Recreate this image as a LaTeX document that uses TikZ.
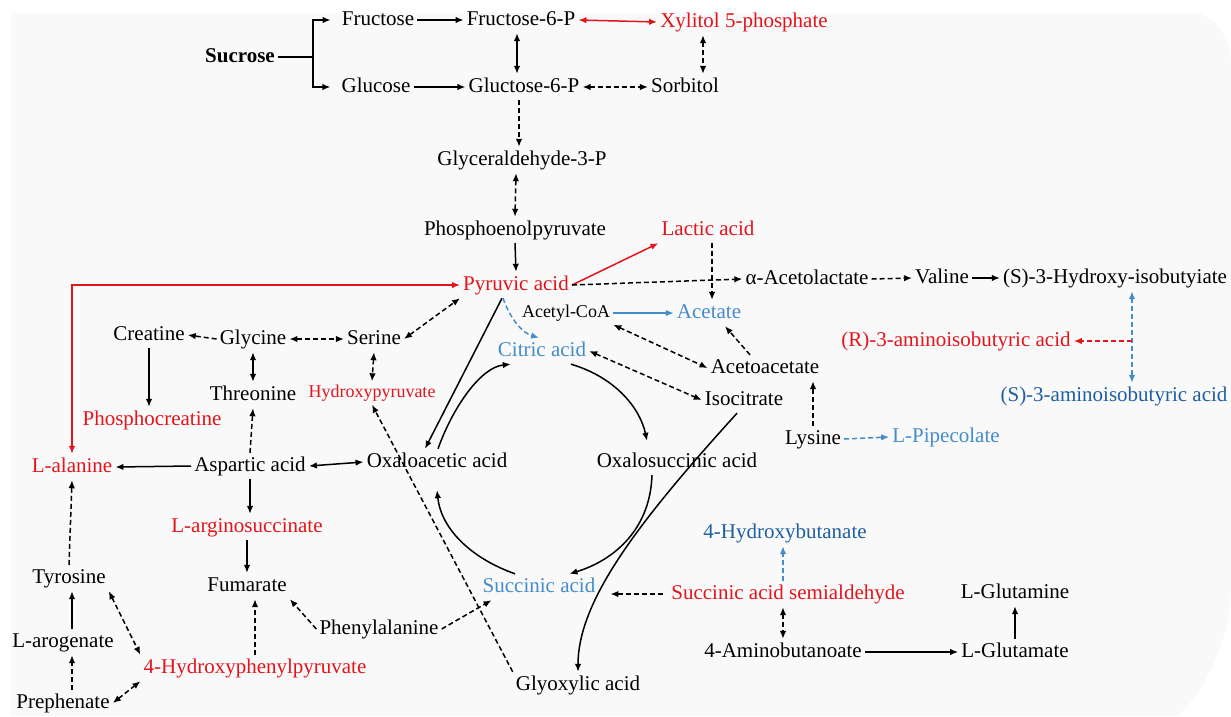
\documentclass[tikz,border=0pt]{standalone}
\usepackage{fontspec}
\setmainfont{Liberation Serif}
\usetikzlibrary{arrows.meta}

\definecolor{panel}{RGB}{249,249,249}
\definecolor{pathred}{RGB}{228,20,28}
\definecolor{pathblue}{RGB}{68,140,204}
\definecolor{deepblue}{RGB}{31,94,160}

\tikzset{
  met/.style={font=\fontsize{21}{25}\selectfont, text height=15pt, text depth=5pt, inner sep=3pt},
  metbold/.style={met, font=\fontsize{21}{25}\selectfont\bfseries},
  metsmall/.style={met, font=\fontsize{18}{21}\selectfont, text height=13pt, text depth=4pt},
  line/.style={line width=1.5pt},
  arr/.style={line, -{Latex[length=8pt,width=6.5pt]}},
  darr/.style={line, {Latex[length=8pt,width=6.5pt]}-{Latex[length=8pt,width=6.5pt]}},
  dsh/.style={dash pattern=on 5pt off 3pt},
}

\begin{document}
\begin{tikzpicture}[x=1pt,y=-1pt]
\useasboundingbox (0,0) rectangle (1231,716);

% Background panel
\fill[panel] (11,13) -- (1194,13) .. controls (1214,13) and (1231,40) .. (1231,62) -- (1231,585)
  .. controls (1231,640) and (1205,690) .. (1178,716) -- (11,716) -- cycle;

% Sugars
\node[metbold] (sucr) at (240,57) {Sucrose};
\node[met] (fru) at (378,20) {Fructose};
\node[met] (glc) at (376,87) {Glucose};
\node[met] (f6p) at (521,20) {Fructose-6-P};
\node[met] (g6p) at (524,87) {Gluctose-6-P};
\node[met,text=pathred] (xyl) at (744,22) {Xylitol 5-phosphate};
\node[met] (sorb) at (685,87) {Sorbitol};
\node[met] (gap) at (522,160) {Glyceraldehyde-3-P};
\node[met] (pep) at (515,230) {Phosphoenolpyruvate};
\node[met,text=pathred] (pyr) at (516,285) {Pyruvic acid};
\node[met,text=pathred] (lac) at (708,230) {Lactic acid};

% Valine branch
\node[met] (acl) at (807,279) {α-Acetolactate};
\node[met] (val) at (942,278) {Valine};
\node[met] (hib) at (1115,278) {(S)-3-Hydroxy-isobutyiate};
\node[met,text=pathred] (raib) at (956,341) {(R)-3-aminoisobutyric acid};
\node[met,text=deepblue] (saib) at (1114,396) {(S)-3-aminoisobutyric acid};

% TCA cycle
\node[metsmall] (accoa) at (566,313) {Acetyl-CoA};
\node[met,text=pathblue] (ace) at (709,313) {Acetate};
\node[met,text=pathblue] (cit) at (542,351) {Citric acid};
\node[met] (acac) at (765,368) {Acetoacetate};
\node[met] (icit) at (744,400) {Isocitrate};
\node[met] (lys) at (813,439) {Lysine};
\node[met,text=pathblue] (pip) at (946,437) {L-Pipecolate};
\node[met] (oaa) at (437,462) {Oxaloacetic acid};
\node[met] (osuc) at (677,462) {Oxalosuccinic acid};
\node[met,text=pathblue] (suc) at (539,587) {Succinic acid};
\node[met] (glyox) at (578,685) {Glyoxylic acid};

% Amino acids
\node[met] (cre) at (149,335) {Creatine};
\node[met] (gly) at (253,339) {Glycine};
\node[met] (ser) at (374,339) {Serine};
\node[met] (thr) at (253,395) {Threonine};
\node[metsmall,text=pathred] (hpyr) at (372,393) {Hydroxypyruvate};
\node[met,text=pathred] (pcre) at (152,420) {Phosphocreatine};
\node[met,text=pathred] (ala) at (72,467) {L-alanine};
\node[met] (asp) at (250,466) {Aspartic acid};
\node[met,text=pathred] (arg) at (247,527) {L-arginosuccinate};
\node[met] (tyr) at (69,578) {Tyrosine};
\node[met] (fum) at (247,586) {Fumarate};
\node[met] (phe) at (379,629) {Phenylalanine};
\node[met] (arog) at (63,642) {L-arogenate};
\node[met,text=pathred] (hpp) at (255,668) {4-Hydroxyphenylpyruvate};
\node[met] (preph) at (63,703) {Prephenate};

% GABA shunt
\node[met,text=pathred] (ssa) at (788,594) {Succinic acid semialdehyde};
\node[met,text=deepblue] (hbut) at (785,533) {4-Hydroxybutanate};
\node[met] (gaba) at (783,652) {4-Aminobutanoate};
\node[met] (gln) at (1015,593) {L-Glutamine};
\node[met] (glu) at (1015,652) {L-Glutamate};

% Coordinate points
\coordinate (fork) at (313,57);
\coordinate (xs) at ([xshift=18pt]sorb.north);
\coordinate (hx) at ([xshift=17pt]hib.south);
\coordinate (br) at (hx |- raib.east);

% Glycolysis
\draw[line] (sucr.east) -- (fork);
\draw[arr] (fork) |- ([xshift=-8pt]fru.west);
\draw[arr] (fork) |- ([xshift=-8pt]glc.west);
\draw[arr] (fru.east) -- (f6p.west);
\draw[arr] (glc.east) -- (g6p.west);
\draw[darr,pathred] (f6p.east) -- (xyl.west);
\draw[darr] ([xshift=-4pt]f6p.south) -- ([xshift=-7pt]g6p.north);
\draw[darr,dsh] (xs |- xyl.south) -- (xs);
\draw[darr,dsh] (g6p.east) -- (sorb.west);
\draw[arr,dsh] ([xshift=-5pt]g6p.south) -- ([xshift=-3pt]gap.north);
\draw[darr,dsh] ([xshift=-6pt]gap.south) -- (pep.north);
\draw[arr] (pep.south) -- (pyr.north);
\draw[arr,pathred] (pyr.east) -- (lac.south west);
\draw[arr,dsh] (pyr.east) -- (acl.west);
\draw[arr,dsh] ([xshift=4pt]lac.south) -- ([xshift=3pt]ace.north);

% Valine branch
\draw[arr,dsh] (acl.east) -- (val.west);
\draw[arr] (val.east) -- (hib.west);
\draw[darr,dsh,pathblue] (hx) -- (hx |- saib.north);
\draw[arr,dsh,pathred] (br) -- (raib.east);

% Pyruvate links
\draw[darr,pathred] (ala.north) |- (pyr.west);
\draw[darr,dsh] (ser.east) -- (pyr.south west);
\draw[darr,dsh] (gly.east) -- (ser.west);
\draw[arr,dsh] (gly.west) -- (cre.east);
\draw[arr] (cre.south) -- (cre.south |- pcre.north);
\draw[darr] (gly.south) -- (thr.north);
\draw[darr,dsh] (ser.south) -- (hpyr.north);
\draw[arr,dsh] (asp.north) -- (thr.south);
\draw[arr] (asp.west) -- (ala.east);
\draw[darr] (asp.east) -- (oaa.west);
\draw[arr] (asp.south) -- (asp.south |- arg.north);
\draw[arr] (arg.south) -- (fum.north);

% Aromatic amino acids
\draw[arr,dsh] (tyr.north) -- (ala.south);
\draw[arr] (arog.north -| ala) -- (tyr.south -| ala);
\draw[arr,dsh] (preph.north -| ala) -- (arog.south -| ala);
\draw[darr,dsh] (tyr.south east) -- (hpp.north west);
\draw[darr,dsh] (preph.east) -- (hpp.south west);
\draw[arr,dsh] (hpp.north) -- (hpp.north |- fum.south);
\draw[arr,dsh] (phe.west) -- (fum.south east);
\draw[arr,dsh] (phe.east) -- ([xshift=12pt]suc.south west);
\draw[arr,dsh] (glyox.north west) -- (hpyr.south);

% TCA cycle
\draw[arr] ([xshift=-14pt]pyr.south) -- ([xshift=-12pt]oaa.north);
\draw[arr] ([xshift=1pt]oaa.north) .. controls +(15,-42) and +(-30,3) .. ([xshift=16pt]cit.south west);
\draw[arr,dsh,pathblue] ([xshift=-13pt]pyr.south) .. controls +(7,20) and +(-17,-5) .. ([xshift=-3pt]cit.north);
\draw[arr,pathblue] (accoa.east) -- (ace.west);
\draw[darr,dsh] (accoa.south east) -- (acac.west);
\draw[darr,dsh] (cit.east) -- (icit.west);
\draw[arr,dsh] ([xshift=-15pt]acac.north) -- ([xshift=16pt]ace.south);
\draw[arr,dsh] (lys.north) -- (lys.north |- acac.south);
\draw[arr,dsh,pathblue] (lys.east) -- (pip.west);
\draw[arr] ([xshift=29pt]cit.south) .. controls +(44,13) and +(-7,-33) .. ([xshift=-30pt,yshift=8pt]osuc.north);
\draw[arr] ([xshift=-7pt]icit.south) .. controls +(-97,107) and +(0,-72) .. (glyox.north);
\draw[arr] ([xshift=-25pt]osuc.south) .. controls +(-2,58) and +(40,-12) .. ([xshift=-29pt]suc.north east);
\draw[arr] ([xshift=-24pt]suc.north) .. controls +(-45,-16) and +(4,38) .. ([yshift=-15pt]oaa.south);

% GABA shunt
\draw[arr,dsh] ([xshift=-5pt]ssa.west) -- ([xshift=12pt]ssa.west -| suc.east);
\draw[arr,dsh,pathblue] ([xshift=-5pt]ssa.north) -- ([xshift=-5pt]ssa.north |- hbut.south);
\draw[darr,dsh] (gaba.north |- ssa.south) -- (gaba.north);
\draw[arr] (gaba.east) -- (glu.west);
\draw[arr] (glu.north) -- (gln.south);

\end{tikzpicture}
\end{document}
